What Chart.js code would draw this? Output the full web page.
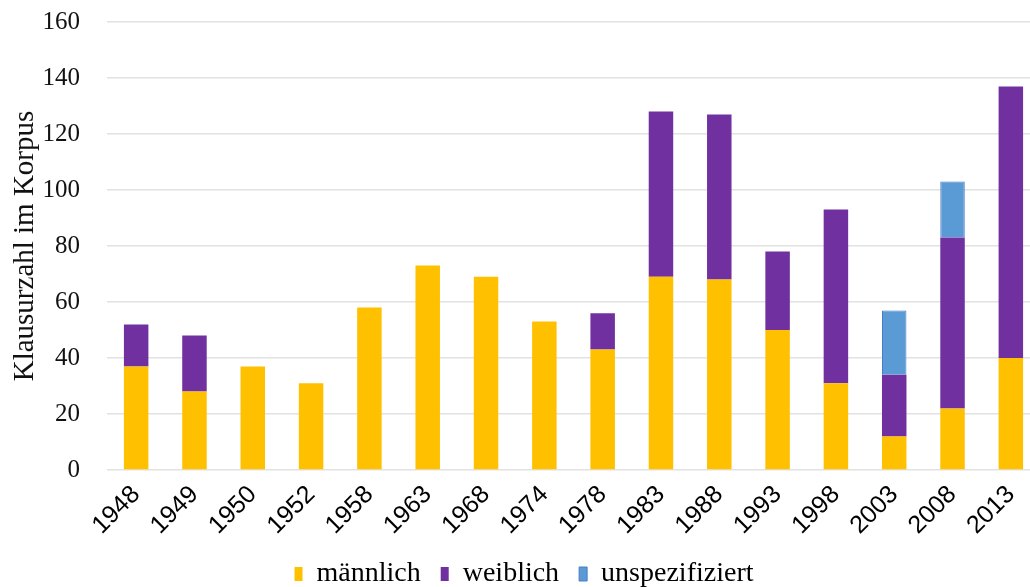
<!DOCTYPE html>
<html>
<head>
<meta charset="utf-8">
<script src="https://cdn.jsdelivr.net/npm/chart.js@4"></script>
<style>
html,body{margin:0;padding:0;background:#fff;overflow:hidden;}
#wrap{width:1030px;height:587px;position:relative;overflow:hidden;}
#c{position:absolute;left:0;top:-20px;}
</style>
</head>
<body>
<div id="wrap"><canvas id="c" width="1040" height="607"></canvas></div>
<script>
const years = ['1948','1949','1950','1952','1958','1963','1968','1974','1978','1983','1988','1993','1998','2003','2008','2013'];
const maennlich = [37, 28, 37, 31, 58, 73, 69, 53, 43, 69, 68, 50, 31, 12, 22, 40];
const weiblich  = [15, 20, 0, 0, 0, 0, 0, 0, 13, 59, 59, 28, 62, 22, 61, 97];
const unspezifiziert = [0, 0, 0, 0, 0, 0, 0, 0, 0, 0, 0, 0, 0, 23, 20, 0];
const yTicks = [0, 20, 40, 60, 80, 100, 120, 140, 160];

const serif = '"Liberation Serif", "Times New Roman", serif';
const sans = '"Liberation Sans", Arial, sans-serif';

new Chart(document.getElementById('c'), {
  type: 'bar',
  data: {
    labels: years,
    datasets: [
      {label: 'männlich', data: maennlich, backgroundColor: '#ffc000', borderWidth: 0},
      {label: 'weiblich', data: weiblich, backgroundColor: '#7030a0', borderWidth: 0},
      {label: 'unspezifiziert', data: unspezifiziert, backgroundColor: '#5b9bd5', borderColor: '#4a7cc4', borderWidth: 1}
    ]
  },
  options: {
    responsive: false,
    animation: false,
    layout: {padding: {left: 8, right: 0, top: -10, bottom: -11}},
    datasets: {bar: {categoryPercentage: 0.84, barPercentage: 0.5}},
    plugins: {
      legend: {
        position: 'bottom',
        labels: {
          font: {family: serif, size: 28},
          color: '#000',
          boxWidth: 8,
          boxHeight: 14,
          padding: 20
        }
      },
      tooltip: {enabled: false}
    },
    scales: {
      x: {
        stacked: true,
        grid: {display: false},
        border: {display: false},
        ticks: {
          font: {family: sans, size: 25},
          color: '#000',
          minRotation: 45,
          maxRotation: 45,
          padding: 2
        },
        afterFit: (s) => { s.height = 70; }
      },
      y: {
        stacked: true,
        min: 0,
        max: 160,
        afterBuildTicks: (s) => { s.ticks = yTicks.map(v => ({value: v})); },
        grid: {color: '#e2e2e2', lineWidth: 1.4, drawTicks: false},
        border: {display: false},
        ticks: {
          font: {family: serif, size: 25},
          color: '#111',
          padding: 27
        },
        title: {
          display: true,
          text: 'Klausurzahl im Korpus',
          font: {family: serif, size: 29},
          color: '#111',
          padding: {top: 0, bottom: 0}
        },
        afterFit: (s) => { s.width = 99; }
      }
    }
  }
});
</script>
</body>
</html>
